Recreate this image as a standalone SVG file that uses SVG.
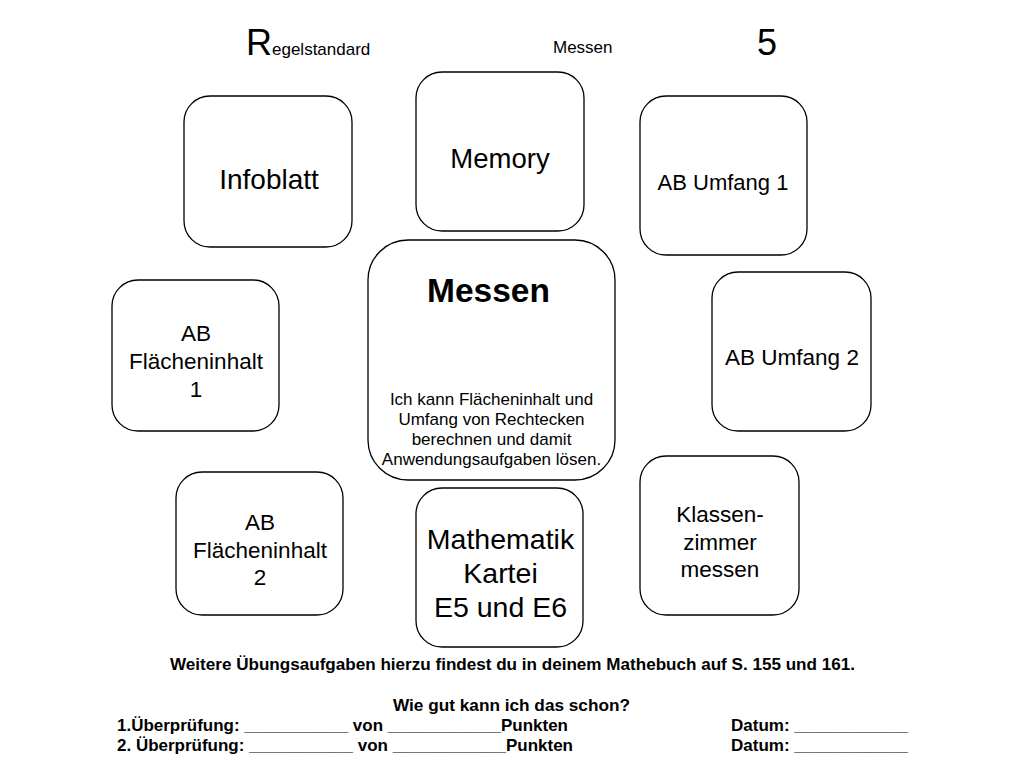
<svg xmlns="http://www.w3.org/2000/svg" width="1024" height="768" viewBox="0 0 1024 768">
<style>
.box{fill:#fff;stroke:#000;stroke-width:1.3}
text{font-family:"Liberation Sans",Arial,sans-serif;fill:#000}
.c{text-anchor:middle}
.b{font-weight:bold}
.n{font-weight:bold;font-size:16.5px}
</style>
<rect width="1024" height="768" fill="#fff"/>
<g id="header">
<text x="246" y="55" font-size="36">R<tspan font-size="17">egelstandard</tspan></text>
<text x="553" y="53" font-size="17">Messen</text>
<text x="757" y="55" font-size="36">5</text>
</g>
<g id="connectors"></g>
<g id="infoblatt"><rect class="box" x="184" y="96" width="168" height="151" rx="26"/>
<text class="c" x="269" y="189" font-size="28">Infoblatt</text></g>
<g id="memory"><rect class="box" x="416" y="72" width="168" height="159" rx="26"/>
<text class="c" x="500" y="168" font-size="27.5">Memory</text></g>
<g id="umfang1"><rect class="box" x="640" y="96" width="167" height="159" rx="26"/>
<text class="c" x="723" y="190" font-size="22">AB Umfang 1</text></g>
<g id="messen"><rect class="box" x="368" y="240" width="247" height="240" rx="40"/>
<text class="c b" x="488.5" y="302" font-size="33.5">Messen</text>
<text class="c" x="491.5" y="405" font-size="17">Ich kann Flächeninhalt und</text>
<text class="c" x="491.5" y="425" font-size="17">Umfang von Rechtecken</text>
<text class="c" x="491.5" y="445" font-size="17">berechnen und damit</text>
<text class="c" x="491.5" y="465" font-size="17">Anwendungsaufgaben lösen.</text></g>
<g id="flaeche1"><rect class="box" x="112" y="280" width="167" height="151" rx="26"/>
<text class="c" x="196" y="341" font-size="22.5">AB</text>
<text class="c" x="196" y="369" font-size="22.5">Flächeninhalt</text>
<text class="c" x="196" y="397" font-size="22.5">1</text></g>
<g id="umfang2"><rect class="box" x="712" y="272" width="159" height="159" rx="26"/>
<text class="c" x="792" y="365" font-size="22.5">AB Umfang 2</text></g>
<g id="flaeche2"><rect class="box" x="176" y="472" width="167" height="143" rx="26"/>
<text class="c" x="260" y="530" font-size="22.5">AB</text>
<text class="c" x="260" y="558" font-size="22.5">Flächeninhalt</text>
<text class="c" x="260" y="585" font-size="22.5">2</text></g>
<g id="kartei"><rect class="box" x="416" y="488" width="167" height="159" rx="26"/>
<text class="c" x="500.5" y="549" font-size="28.5">Mathematik</text>
<text class="c" x="500.5" y="583" font-size="28.5">Kartei</text>
<text class="c" x="500.5" y="617" font-size="28.5">E5 und E6</text></g>
<g id="klassenzimmer"><rect class="box" x="640" y="456" width="159" height="159" rx="26"/>
<text class="c" x="720" y="522" font-size="22.5">Klassen-</text>
<text class="c" x="720" y="550" font-size="22.5">zimmer</text>
<text class="c" x="720" y="577" font-size="22.5">messen</text></g>
<g id="footer">
<text class="n" x="170" y="670" textLength="685" lengthAdjust="spacingAndGlyphs">Weitere Übungsaufgaben hierzu findest du in deinem Mathebuch auf S. 155 und 161.</text>
<text class="n" x="393" y="711" textLength="237" lengthAdjust="spacingAndGlyphs">Wie gut kann ich das schon?</text>
<text class="n" x="117" y="731" textLength="451" lengthAdjust="spacingAndGlyphs">1.Überprüfung: ___________ von ____________Punkten</text>
<text class="n" x="731" y="731" textLength="177" lengthAdjust="spacingAndGlyphs">Datum: ____________</text>
<text class="n" x="117" y="751" textLength="456" lengthAdjust="spacingAndGlyphs">2. Überprüfung: ___________ von ____________Punkten</text>
<text class="n" x="731" y="751" textLength="177" lengthAdjust="spacingAndGlyphs">Datum: ____________</text>
</g>
</svg>
